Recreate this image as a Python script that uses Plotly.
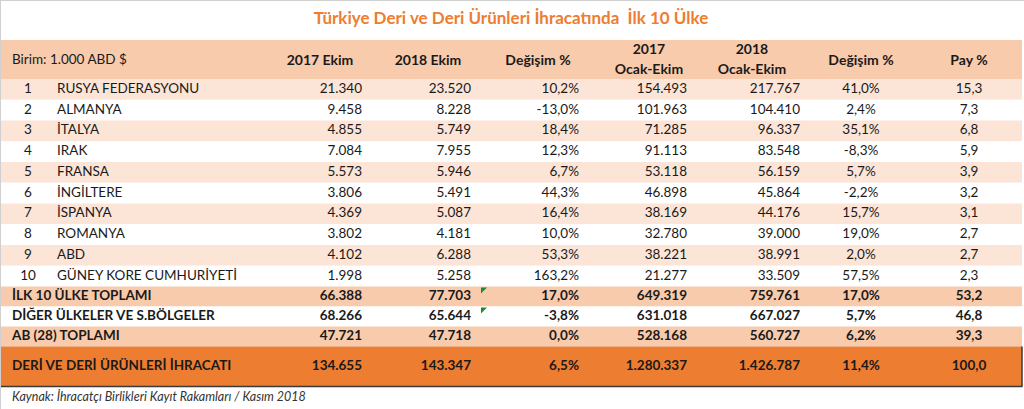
import plotly.graph_objects as go

# ---------------- data ----------------
title = "Türkiye Deri ve Deri Ürünleri İhracatında  İlk 10 Ülke"
unit_label = "Birim: 1.000 ABD $"
col_headers_top = ["", "", "", "2017", "2018", "", ""]
col_headers_bottom = ["2017 Ekim", "2018 Ekim", "Değişim %", "Ocak-Ekim", "Ocak-Ekim", "Değişim %", "Pay %"]

ranks = [1, 2, 3, 4, 5, 6, 7, 8, 9, 10]
countries = ["RUSYA FEDERASYONU", "ALMANYA", "İTALYA", "IRAK", "FRANSA", "İNGİLTERE",
             "İSPANYA", "ROMANYA", "ABD", "GÜNEY KORE CUMHURİYETİ"]
ekim_2017 = [21340, 9458, 4855, 7084, 5573, 3806, 4369, 3802, 4102, 1998]
ekim_2018 = [23520, 8228, 5749, 7955, 5946, 5491, 5087, 4181, 6288, 5258]
degisim_ekim = [10.2, -13.0, 18.4, 12.3, 6.7, 44.3, 16.4, 10.0, 53.3, 163.2]
ocak_ekim_2017 = [154493, 101963, 71285, 91113, 53118, 46898, 38169, 32780, 38221, 21277]
ocak_ekim_2018 = [217767, 104410, 96337, 83548, 56159, 45864, 44176, 39000, 38991, 33509]
degisim_ocak_ekim = [41.0, 2.4, 35.1, -8.3, 5.7, -2.2, 15.7, 19.0, 2.0, 57.5]
pay = [15.3, 7.3, 6.8, 5.9, 3.9, 3.2, 3.1, 2.7, 2.7, 2.3]

total_labels = ["İLK 10 ÜLKE TOPLAMI", "DİĞER ÜLKELER VE S.BÖLGELER", "AB (28) TOPLAMI",
                "DERİ VE DERİ ÜRÜNLERİ İHRACATI"]
total_ekim_2017 = [66388, 68266, 47721, 134655]
total_ekim_2018 = [77703, 65644, 47718, 143347]
total_degisim_ekim = [17.0, -3.8, 0.0, 6.5]
total_ocak_ekim_2017 = [649319, 631018, 528168, 1280337]
total_ocak_ekim_2018 = [759761, 667027, 560727, 1426787]
total_degisim_ocak_ekim = [17.0, 5.7, 6.2, 11.4]
total_pay = [53.2, 46.8, 39.3, 100.0]

source = "Kaynak: İhracatçı Birlikleri Kayıt Rakamları / Kasım 2018"

# ---------------- formatting ----------------
def fmt_int(v):
    return f"{v:,}".replace(",", ".")

def fmt_pct(v):
    return f"{v:.1f}".replace(".", ",") + "%"

def fmt_dec(v):
    return f"{v:.1f}".replace(".", ",")

# ---------------- layout geometry ----------------
W, H = 1024, 409
FONT = "Lato"
ORANGE = "#ED7D31"
PEACH = "#F8CBAD"
LIGHT = "#FCE4D6"
TXT = "#1a1a1a"

hdr_top, hdr_bot = 40, 79
row_h = 20.75
tot_h = 20
last_h = 40

row_tops = [hdr_bot + i * row_h for i in range(len(countries))]
row_cy = [t + row_h / 2 for t in row_tops]
t0 = row_tops[-1] + row_h
tot_tops = [t0 + i * tot_h for i in range(3)] + [t0 + 3 * tot_h]
tot_hs = [tot_h, tot_h, tot_h, last_h]
tot_cy = [t + h / 2 for t, h in zip(tot_tops, tot_hs)]
tot_fill = [PEACH, "white", PEACH, ORANGE]

x_rank = 28
x_name = 57
x_label = 12
col_x = [362, 471, 579, 687, 800, 861, 969]
col_align = ["right", "right", "right", "right", "right", "center", "center"]
hdr_x = [320, 428, 538, 649, 752, 861, 969]

fig = go.Figure()

shapes = []
shapes.append(dict(type="rect", xref="x", yref="y", x0=0, x1=1022, y0=hdr_top, y1=hdr_bot,
                   fillcolor=PEACH, line=dict(width=0), layer="below"))
for i, t in enumerate(row_tops):
    shapes.append(dict(type="rect", xref="x", yref="y", x0=0, x1=1022, y0=t, y1=t + row_h,
                       fillcolor=LIGHT if i % 2 == 0 else "white", line=dict(width=0), layer="below"))
for t, h, c in zip(tot_tops, tot_hs, tot_fill):
    shapes.append(dict(type="rect", xref="x", yref="y", x0=0, x1=1022, y0=t, y1=t + h,
                       fillcolor=c, line=dict(width=0), layer="below"))
last_bot = tot_tops[-1] + last_h
shapes.append(dict(type="line", xref="x", yref="y", x0=0, x1=1022.5, y0=last_bot, y1=last_bot,
                   line=dict(color="#3a3a3a", width=1.5)))
shapes.append(dict(type="line", xref="x", yref="y", x0=1022, x1=1022, y0=tot_tops[-1], y1=last_bot,
                   line=dict(color="#3a3a3a", width=1.5)))
shapes.append(dict(type="line", xref="x", yref="y", x0=0, x1=W, y0=0.5, y1=0.5,
                   line=dict(color="#d0d0d0", width=1)))
shapes.append(dict(type="line", xref="x", yref="y", x0=0.5, x1=0.5, y0=0, y1=H,
                   line=dict(color="#d0d0d0", width=1)))
for t in tot_tops[:2]:
    shapes.append(dict(type="path", xref="x", yref="y",
                       path=f"M 481 {t+1} L 487 {t+1} L 481 {t+7} Z",
                       fillcolor="#1E8C2E", line=dict(width=0)))

fig.update_layout(shapes=shapes)


def add_text(xs, ys, texts, pos, size=13.5, color=TXT, family=FONT):
    fig.add_trace(go.Scatter(x=xs, y=ys, text=texts, mode="text", textposition=pos,
                             marker=dict(size=0),
                             textfont=dict(family=family, size=size, color=color),
                             hoverinfo="skip", showlegend=False, cliponaxis=False))

pos_map = {"right": "middle left", "center": "middle center", "left": "middle right"}

add_text([511], [20], [f"<b>{title}</b>"], "middle center", size=17, color=ORANGE)
add_text([x_label], [61], [unit_label], "middle right")
for hx, ht, hb in zip(hdr_x, col_headers_top, col_headers_bottom):
    if ht:
        add_text([hx, hx], [50, 70], [f"<b>{ht}</b>", f"<b>{hb}</b>"], "middle center", size=14)
    else:
        add_text([hx], [61], [f"<b>{hb}</b>"], "middle center", size=14)

add_text([x_rank] * len(ranks), row_cy, [str(r) for r in ranks], "middle center")
add_text([x_name] * len(countries), row_cy, countries, "middle right")
cols = [
    [fmt_int(v) for v in ekim_2017],
    [fmt_int(v) for v in ekim_2018],
    [fmt_pct(v) for v in degisim_ekim],
    [fmt_int(v) for v in ocak_ekim_2017],
    [fmt_int(v) for v in ocak_ekim_2018],
    [fmt_pct(v) for v in degisim_ocak_ekim],
    [fmt_dec(v) for v in pay],
]
for cx, al, vals in zip(col_x, col_align, cols):
    add_text([cx] * len(vals), row_cy, vals, pos_map[al])

add_text([x_label] * len(total_labels), tot_cy, [f"<b>{t}</b>" for t in total_labels], "middle right")
tcols = [
    [fmt_int(v) for v in total_ekim_2017],
    [fmt_int(v) for v in total_ekim_2018],
    [fmt_pct(v) for v in total_degisim_ekim],
    [fmt_int(v) for v in total_ocak_ekim_2017],
    [fmt_int(v) for v in total_ocak_ekim_2018],
    [fmt_pct(v) for v in total_degisim_ocak_ekim],
    [fmt_dec(v) for v in total_pay],
]
for cx, al, vals in zip(col_x, col_align, tcols):
    add_text([cx] * len(vals), tot_cy, [f"<b>{v}</b>" for v in vals], pos_map[al])

add_text([x_label], [398], [f"<i>{source}</i>"], "middle right", size=12.5, color="#333333")

fig.update_layout(
    width=W, height=H,
    margin=dict(l=0, r=0, t=0, b=0),
    paper_bgcolor="white", plot_bgcolor="white",
    xaxis=dict(range=[0, W], visible=False, fixedrange=True),
    yaxis=dict(range=[H, 0], visible=False, fixedrange=True),
    showlegend=False,
)

fig.write_html("out.html", config={"displayModeBar": False},
               post_script="document.body.style.margin='0';document.body.style.overflow='hidden';")
